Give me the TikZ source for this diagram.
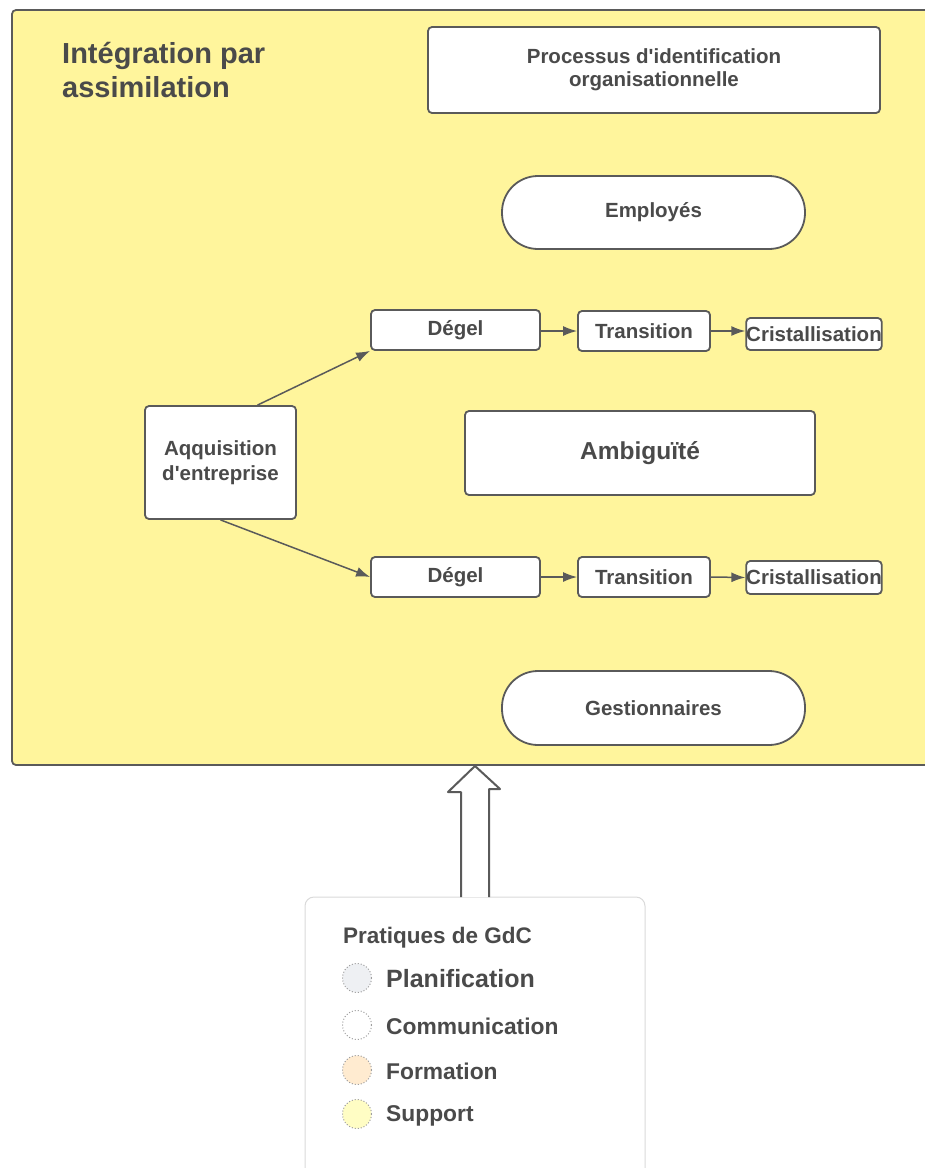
\documentclass[tikz,border=0pt]{standalone}
\usepackage{fontspec}
\setmainfont{Liberation Sans}
\usetikzlibrary{arrows.meta}
\definecolor{panel}{HTML}{FFF59C}
\definecolor{edge}{HTML}{5A5A5A}
\definecolor{ink}{HTML}{4A4A4A}
\definecolor{legendedge}{HTML}{DADADA}
\definecolor{planfill}{HTML}{EEF0F3}
\definecolor{formfill}{HTML}{FFEBD0}
\definecolor{suppfill}{HTML}{FFFDC4}
\newcommand{\fs}[1]{\fontsize{#1}{1.2\dimexpr #1pt\relax}\selectfont\bfseries}
\newcommand{\ap}{\textquotesingle}
\tikzset{
  box/.style={draw=edge, line width=1.8pt, fill=white, rounded corners=4pt,
    inner sep=0pt, text=ink, font=\fs{20.5}},
  pill/.style={draw=edge, line width=1.8pt, fill=white, rounded corners=36pt,
    inner sep=0pt, text=ink, font=\fs{20.5}},
  flow/.style={draw=edge, line width=1.5pt, -{Latex[length=14pt,width=10pt]}},
  dot/.style={circle, draw=gray!75, dotted, line width=1pt, minimum size=29pt, inner sep=0pt},
  legtext/.style={anchor=west, text=ink, inner sep=0pt},
}
\begin{document}
\begin{tikzpicture}[x=1pt,y=-1pt]
\useasboundingbox (0,0) rectangle (925,1168);
\clip (0,0) rectangle (925,1168);

% main panel
\draw[draw=edge, line width=1.8pt, fill=panel, rounded corners=4pt] (12,10) rectangle (960,765);
\node[anchor=north west, align=left, text=ink, font=\fs{29}, inner sep=0pt] (title) at (62,42)
  {Intégration par\\[-1pt]assimilation};

\node[box, minimum width=452pt, minimum height=86pt, align=center, font=\fs{20.5}] (proc) at (654,70)
  {Processus d\ap identification\\[-2pt]organisationnelle};

\node[pill, minimum width=303pt, minimum height=73pt] (emp) at (653.5,212.5) {Employés};

\node[box, minimum width=151pt, minimum height=113pt, align=center] (acq) at (220.5,462.5)
  {Aqquisition\\[1pt]d\ap entreprise};

% upper chain
\node[box, minimum width=169pt, minimum height=40pt] (dg1) at (455.5,330) {Dégel};
\node[box, minimum width=132pt, minimum height=40pt] (tr1) at (644,331) {Transition};
\node[box, minimum width=132pt, minimum height=32pt] (cr1) at (814,334) {Cristallisation};

\node[box, minimum width=350pt, minimum height=84pt, font=\fs{24.5}] (amb) at (640,453) {Ambiguïté};

% lower chain
\node[box, minimum width=169pt, minimum height=40pt] (dg2) at (455.5,577) {Dégel};
\node[box, minimum width=132pt, minimum height=40pt] (tr2) at (644,577) {Transition};
\node[box, minimum width=132pt, minimum height=33pt] (cr2) at (814,577.5) {Cristallisation};

\node[pill, minimum width=303pt, minimum height=74pt] (ges) at (653.5,708) {Gestionnaires};

% connectors
\draw[flow] ([xshift=37pt]acq.north) -- (dg1.south west);
\draw[flow] (acq.south) -- (dg2.west);
\draw[flow] (dg1.east |- tr1.west) -- (tr1.west);
\draw[flow] (tr1.east) -- (tr1.east -| cr1.west);
\draw[flow] (dg2.east) -- (tr2.west);
\draw[flow] (tr2.east) -- (cr2.west);

% legend
\draw[draw=legendedge, line width=1pt, fill=white, rounded corners=9pt] (305,897) rectangle (645,1190);
\coordinate (legtop) at (475,897);
\coordinate (paneltip) at (475,766);
\node[legtext, font=\fs{22.5}] (lhead) at (343,938) {Pratiques de GdC};
\node[dot, fill=planfill] (c1) at (357,978) {};
\node[legtext, font=\fs{25}] (l1) at (386,979) {Planification};
\node[dot, fill=white] (c2) at (357,1025) {};
\node[legtext, font=\fs{22.8}] (l2) at (386,1026) {Communication};
\node[dot, fill=formfill] (c3) at (357,1070) {};
\node[legtext, font=\fs{22.8}] (l3) at (386,1071) {Formation};
\node[dot, fill=suppfill] (c4) at (357,1114) {};
\node[legtext, font=\fs{22.8}] (l4) at (386,1116) {Support};

% hollow block arrow from the legend up to the panel
\draw[draw=edge, line width=2pt, fill=white, line join=round]
  ([xshift=-14pt]legtop) -- ++(0,-105) -- ++(-13,0) -- (paneltip)
  -- ++(25,23) -- ++(-11,0) -- ([xshift=14pt]legtop);
\end{tikzpicture}
\end{document}
